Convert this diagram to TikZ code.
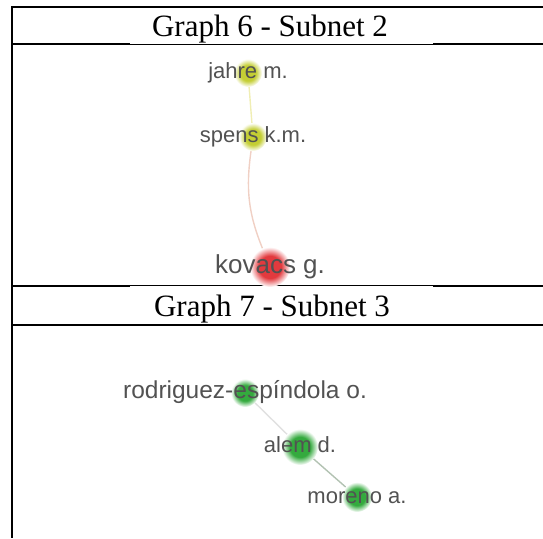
\documentclass[tikz,border=0pt]{standalone}
\usepackage{fontspec}
\setmainfont{Liberation Serif}
\setsansfont{Liberation Sans}
\usetikzlibrary{positioning,calc}

\definecolor{ballY}{RGB}{196,206,52}
\definecolor{ballR}{RGB}{226,58,62}
\definecolor{ballG}{RGB}{52,170,62}
\definecolor{linkP}{RGB}{240,208,196}
\definecolor{linkY}{RGB}{240,238,180}
\pgfdeclareradialshading{blobY}{\pgfpoint{0bp}{0bp}}{color(0bp)=(ballY); color(14bp)=(ballY); color(25bp)=(white); color(50bp)=(white)}
\pgfdeclareradialshading{blobR}{\pgfpoint{0bp}{0bp}}{color(0bp)=(ballR); color(14bp)=(ballR); color(25bp)=(white); color(50bp)=(white)}
\pgfdeclareradialshading{blobG}{\pgfpoint{0bp}{0bp}}{color(0bp)=(ballG); color(14bp)=(ballG); color(25bp)=(white); color(50bp)=(white)}

\begin{document}
\begin{tikzpicture}[
  x=1pt, y=1pt,
  rule/.style  = {line width=2pt, black},
  hair/.style  = {line width=0.9pt, black},
  title/.style = {font=\fontsize{31}{33}\selectfont, anchor=base, inner sep=0pt},
  dot/.style   = {circle, inner sep=0pt, minimum size=#1},
  ylw/.style   = {shading=blobY},
  rd/.style    = {shading=blobR},
  grn/.style   = {shading=blobG},
  lbl/.style   = {font=\sffamily\fontsize{22}{24}\selectfont, text=black!68, anchor=base, inner sep=0pt},
  edge/.style  = {line width=1.4pt}]

\useasboundingbox (0,0) rectangle (543,538);

% table frame
\draw[rule] (543,531) -- (12,531) -- (12,0);
\draw[rule] (12,493.5) -- (130,493.5);
\draw[hair] (130,494) -- (433,494);
\draw[rule] (433,493.5) -- (543,493.5);
\draw[rule] (12,252) -- (130,252);
\draw[hair] (130,252.5) -- (433,252.5);
\draw[rule] (433,252) -- (543,252);
\draw[rule] (12,213) -- (543,213);

\node[title] (t6) at (270,501) {Graph 6 - Subnet 2};
\node[title] (t7) at (272,221) {Graph 7 - Subnet 3};

% subnet 2
\node[dot=28pt, ylw] (jahre)  at (248,465) {};
\node[dot=28pt, ylw] (spens)  at (253,401) {};
\node[dot=40pt, rd]  (kovacs) at (270,271) {};

\draw[edge, linkY] (jahre) -- (spens);
\draw[edge, linkP] (spens) to[out=262, in=112] (kovacs);

\node[lbl] (jahre-l)  at ($(jahre)+(0,-6)$)  {jahre m.};
\node[lbl] (spens-l)  at ($(spens)+(0,-6)$)  {spens k.m.};
\node[lbl, font=\sffamily\fontsize{26}{28}\selectfont] (kovacs-l) at ($(kovacs)+(0,-7)$) {kovacs g.};

% subnet 3
\node[dot=28pt, grn] (rodr)   at (245,145) {};
\node[dot=36pt, grn] (alem)   at (300,91)  {};
\node[dot=30pt, grn] (moreno) at (357,41)  {};

\draw[edge, black!12] (rodr) -- (alem);
\draw[edge, green!20!black!30] (alem) -- (moreno);

\node[lbl, font=\sffamily\fontsize{24.5}{26}\selectfont] (rodr-l) at ($(rodr)+(0,-6)$) {rodriguez-espíndola o.};
\node[lbl] (alem-l)   at ($(alem)+(0,-6)$)   {alem d.};
\node[lbl] (moreno-l) at ($(moreno)+(0,-6)$) {moreno a.};

\end{tikzpicture}
\end{document}
